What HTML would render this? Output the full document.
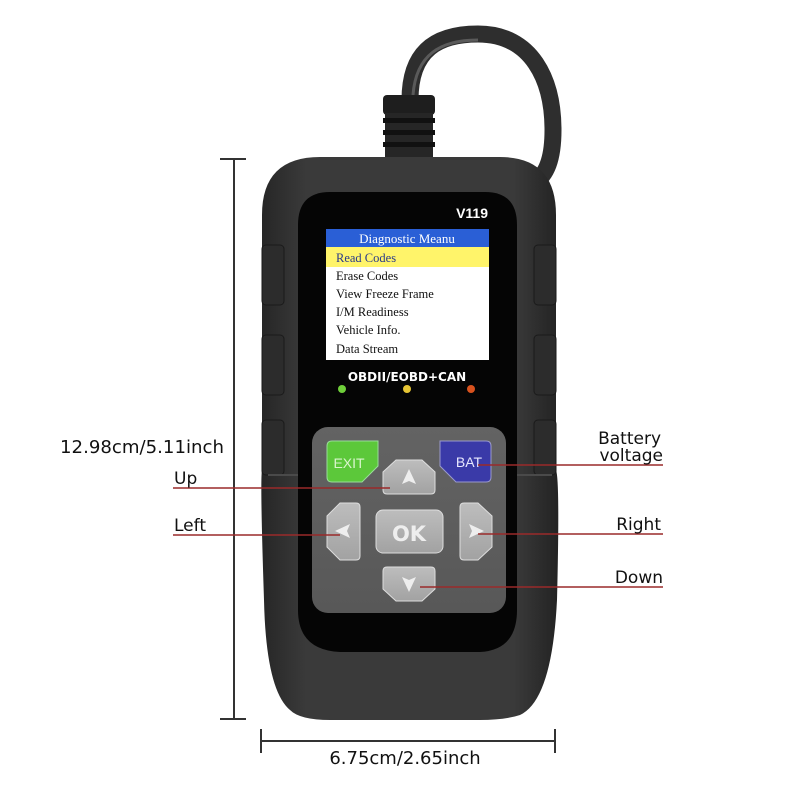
<!DOCTYPE html>
<html><head><style>html,body{margin:0;padding:0;background:#fff}svg{display:block}</style></head>
<body>
<svg width="800" height="800" viewBox="0 0 800 800" xmlns="http://www.w3.org/2000/svg">
<defs>
<linearGradient id="bd" x1="0" x2="1" y1="0" y2="0">
<stop offset="0" stop-color="#262626"/><stop offset="0.15" stop-color="#3a3a3a"/><stop offset="0.85" stop-color="#3a3a3a"/><stop offset="1" stop-color="#232323"/>
</linearGradient>
<linearGradient id="kp" x1="0" x2="0" y1="0" y2="1"><stop offset="0" stop-color="#636363"/><stop offset="1" stop-color="#585858"/></linearGradient>
<linearGradient id="btn" x1="0" x2="0" y1="0" y2="1"><stop offset="0" stop-color="#bdbdbd"/><stop offset="1" stop-color="#a2a2a2"/></linearGradient>
</defs>
<!-- cable -->
<path d="M410 100 C 410 48, 440 34, 478 34 C 532 34, 553 80, 553 130 C 553 160, 546 175, 535 182" fill="none" stroke="#2e2e2e" stroke-width="17" stroke-linecap="round"/>
<path d="M413 95 C 416 55, 440 40, 478 40" fill="none" stroke="#5a5a5a" stroke-width="3"/>
<!-- strain relief -->
<rect x="383" y="95" width="52" height="20" rx="4" fill="#1e1e1e"/>
<rect x="385" y="113" width="48" height="46" fill="#262626"/>
<rect x="383" y="118" width="52" height="5" fill="#111"/>
<rect x="383" y="130" width="52" height="5" fill="#111"/>
<rect x="383" y="142" width="52" height="5" fill="#111"/>
<!-- body -->
<path d="M320 157 L500 157 Q556 157 556 215 L556 470 Q560 480 557 600 Q552 700 520 715 Q505 720 480 720 L330 720 Q300 720 290 710 Q266 690 264 600 Q260 480 262 470 L262 215 Q262 157 320 157 Z" fill="url(#bd)"/>
<!-- grips -->
<g fill="#2c2c2c" stroke="#1a1a1a">
<rect x="262" y="245" width="22" height="60" rx="4"/><rect x="262" y="335" width="22" height="60" rx="4"/><rect x="262" y="420" width="22" height="55" rx="4"/>
<rect x="534" y="245" width="22" height="60" rx="4"/><rect x="534" y="335" width="22" height="60" rx="4"/><rect x="534" y="420" width="22" height="55" rx="4"/>
</g>
<!-- bezel -->
<path d="M330 192 L485 192 Q517 192 517 225 L517 610 Q517 650 480 652 L340 652 Q298 650 298 610 L298 225 Q298 192 330 192 Z" fill="#050505"/>
<path d="M268 475 L298 475 M517 475 L552 475" stroke="#4a4a4a" stroke-width="2"/>
<text x="488" y="218" font-family="Liberation Sans, sans-serif" font-weight="bold" font-size="14" fill="#fff" text-anchor="end">V119</text>
<!-- LCD -->
<rect x="326" y="229" width="163" height="131" fill="#fff"/>
<rect x="326" y="229" width="163" height="18" fill="#2a5fd6"/>
<rect x="326" y="247" width="163" height="20" fill="#fff46a"/>
<g font-family="Liberation Serif, serif" font-size="12.5" fill="#111">
<text x="407" y="243" text-anchor="middle" fill="#fff" font-size="13">Diagnostic Meanu</text>
<text x="336" y="262" fill="#2a3a8a">Read Codes</text>
<text x="336" y="280">Erase Codes</text>
<text x="336" y="298">View Freeze Frame</text>
<text x="336" y="316">I/M Readiness</text>
<text x="336" y="334">Vehicle Info.</text>
<text x="336" y="353">Data Stream</text>
</g>
<text x="407" y="381" font-family="DejaVu Sans, sans-serif" font-weight="bold" font-size="12" fill="#fff" text-anchor="middle">OBDII/EOBD+CAN</text>
<circle cx="342" cy="389" r="4" fill="#6fcf3a"/><circle cx="407" cy="389" r="4" fill="#e6c534"/><circle cx="471" cy="389" r="4" fill="#d8521e"/>
<!-- keypad -->
<rect x="312" y="427" width="194" height="186" rx="16" fill="url(#kp)"/>
<path d="M332 441 L378 441 L378 466 L362 482 L332 482 Q327 482 327 477 L327 446 Q327 441 332 441 Z" fill="#5cc83a" stroke="#9d9" stroke-width="1"/>
<text x="349" y="468" font-family="Liberation Sans, sans-serif" font-size="14" fill="#d9f5cc" text-anchor="middle">EXIT</text>
<path d="M445 441 L486 441 Q491 441 491 446 L491 477 Q491 482 486 482 L456 482 L440 466 L440 441 Z" fill="#3a3aa8" stroke="#99c" stroke-width="1"/>
<text x="469" y="467" font-family="Liberation Sans, sans-serif" font-size="14" fill="#e8e8ff" text-anchor="middle">BAT</text>
<g fill="url(#btn)" stroke="#ddd" stroke-width="1">
<path d="M396 460 L422 460 L435 472 L435 490 Q435 494 431 494 L387 494 Q383 494 383 490 L383 472 Z"/>
<path d="M387 567 L431 567 Q435 567 435 571 L435 589 L422 601 L396 601 L383 589 L383 571 Q383 567 387 567 Z"/>
<path d="M356 503 Q360 503 360 507 L360 556 Q360 560 356 560 L340 560 L327 547 L327 516 L340 503 Z"/>
<path d="M464 503 L478 503 L492 516 L492 547 L478 560 L464 560 Q460 560 460 556 L460 507 Q460 503 464 503 Z"/>
<rect x="376" y="510" width="67" height="43" rx="7"/>
</g>
<g fill="#eee">
<path d="M409 469 L416 484 L409 481 L402 484 Z"/>
<path d="M409 592 L416 577 L409 580 L402 577 Z"/>
<path d="M335 531 L350 524 L347 531 L350 538 Z"/>
<path d="M484 531 L469 524 L472 531 L469 538 Z"/>
</g>
<text x="409" y="541" font-family="DejaVu Sans, sans-serif" font-weight="bold" font-size="21" fill="#eee" text-anchor="middle">OK</text>
<!-- dimension lines -->
<g stroke="#333" stroke-width="2">
<line x1="234" y1="159" x2="234" y2="719"/><line x1="220" y1="159" x2="246" y2="159"/><line x1="220" y1="719" x2="246" y2="719"/>
<line x1="261" y1="741" x2="555" y2="741"/><line x1="261" y1="729" x2="261" y2="753"/><line x1="555" y1="729" x2="555" y2="753"/>
</g>
<!-- callouts -->
<g stroke="#9a2a2a" stroke-width="1.5">
<line x1="173" y1="488" x2="390" y2="488"/>
<line x1="173" y1="535" x2="340" y2="535"/>
<line x1="478" y1="465" x2="663" y2="465"/>
<line x1="478" y1="534" x2="663" y2="534"/>
<line x1="420" y1="587" x2="663" y2="587"/>
</g>
<g font-family="DejaVu Sans, sans-serif" font-size="17" fill="#111">
<text x="60" y="453" textLength="164" lengthAdjust="spacingAndGlyphs" font-size="18">12.98cm/5.11inch</text>
<text x="174" y="484">Up</text>
<text x="174" y="531">Left</text>
<text x="661" y="444" text-anchor="end">Battery</text>
<text x="663" y="461" text-anchor="end">voltage</text>
<text x="661" y="530" text-anchor="end">Right</text>
<text x="663" y="583" text-anchor="end">Down</text>
<text x="405" y="764" text-anchor="middle" font-size="18">6.75cm/2.65inch</text>
</g>
</svg>
</body></html>
